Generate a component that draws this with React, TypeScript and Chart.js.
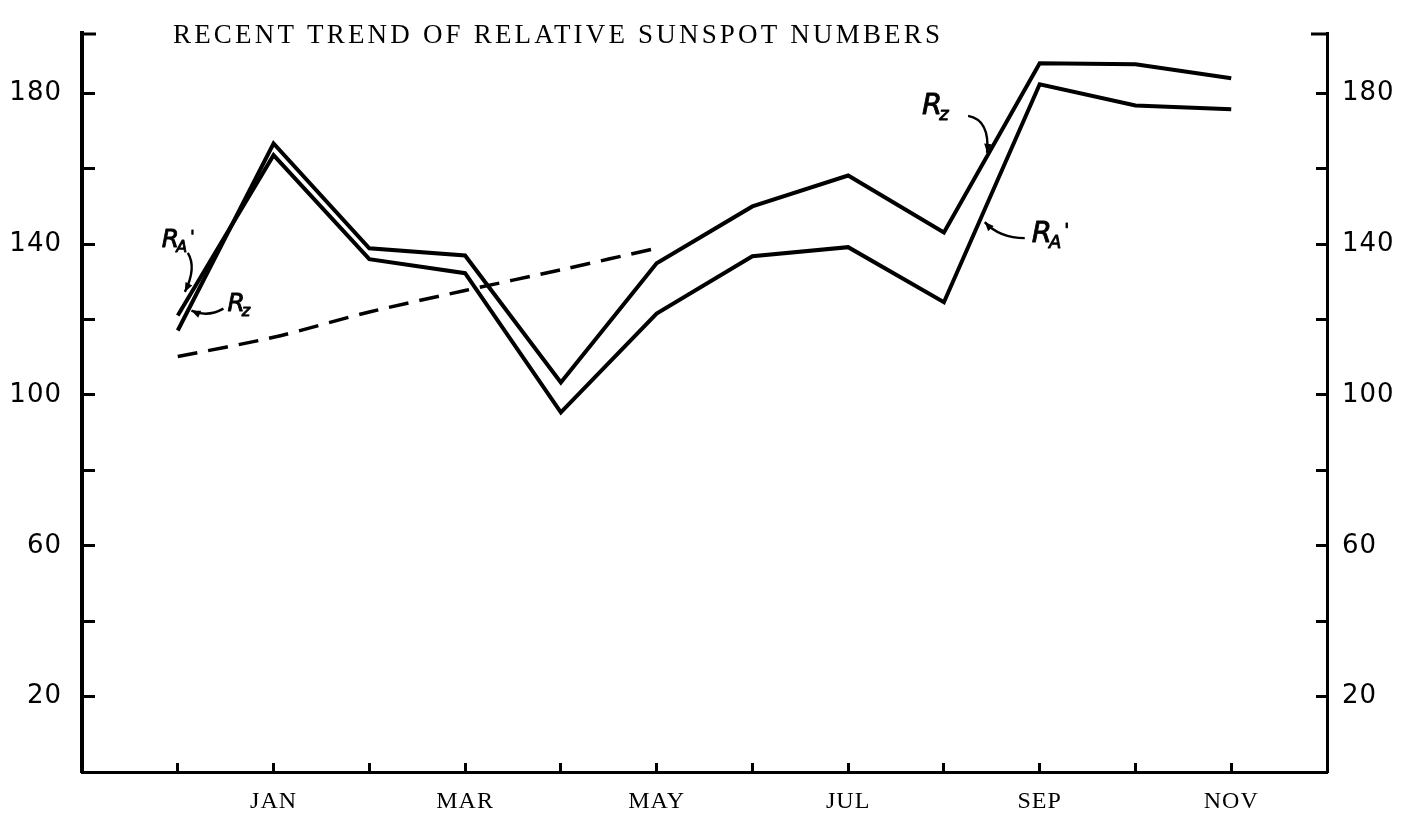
import React, { useEffect, useRef } from 'react';
import { Chart, registerables } from 'chart.js';

Chart.register(...registerables);

// ---- data ----
const MONTHS = ['DEC', 'JAN', 'FEB', 'MAR', 'APR', 'MAY', 'JUN', 'JUL', 'AUG', 'SEP', 'OCT', 'NOV'];
const LABELED_MONTHS = ['JAN', 'MAR', 'MAY', 'JUL', 'SEP', 'NOV'];
const R_Z = [117.1, 166.7, 138.9, 137.0, 103.3, 134.9, 150.0, 158.2, 143.1, 188.0, 187.7, 184.0];
const R_A = [121.1, 163.6, 136.0, 132.3, 95.4, 121.6, 136.8, 139.2, 124.6, 182.4, 176.8, 175.8];
const SMOOTHED = [110.2, 115.3, 122.0, 127.7, 133.2, 138.9];
const Y_TICKS = [20, 40, 60, 80, 100, 120, 140, 160, 180];
const Y_LABELS = [20, 60, 100, 140, 180];
const Y_MIN = 0;
const Y_MAX = 196;
const X_MIN = -1;
const X_MAX = 12;
const TITLE = 'RECENT TREND OF RELATIVE SUNSPOT NUMBERS';

type Note = {
  series: number[];
  t: number;
  sub: string;
  prime: boolean;
  size: number;
  label: [number, number];
  start: [number, number];
  ctrl: [number, number];
  end: [number, number];
};

const NOTES: Note[] = [
  { series: R_A, t: 0.147, sub: 'A', prime: true, size: 25, label: [-30, -45], start: [-4, -39], ctrl: [5, -24], end: [-7, 0] },
  { series: R_Z, t: 0.122, sub: 'z', prime: false, size: 25, label: [38, 3], start: [34, 1], ctrl: [18, 10], end: [2, 3] },
  { series: R_Z, t: 8.482, sub: 'z', prime: false, size: 29, label: [-68, -37], start: [-22, -35], ctrl: [0, -31], end: [-3, 2] },
  { series: R_A, t: 8.395, sub: 'A', prime: true, size: 29, label: [50, 26], start: [43, 22], ctrl: [18, 22], end: [3, 6] },
];

function valueAt(series: number[], t: number): number {
  const i = Math.floor(t);
  const j = Math.min(series.length - 1, i + 1);
  return series[i] + (series[j] - series[i]) * (t - i);
}

const letterSpacingPlugin = {
  id: 'letterSpacing',
  beforeDraw(chart: any) {
    (chart.ctx as any).letterSpacing = '1px';
  },
  afterDatasetsDraw(chart: any) {
    // x axis (z: 1) labels are drawn after the datasets
    (chart.ctx as any).letterSpacing = '5px';
  },
};

const decorPlugin = {
  id: 'decor',
  afterDraw(chart: any) {
    const ctx: CanvasRenderingContext2D = chart.ctx;
    const { left, right, top } = chart.chartArea;
    const xs = chart.scales.x;
    const ys = chart.scales.y;
    ctx.save();
    (ctx as any).letterSpacing = '0px';
    // top hooks of the axes
    ctx.strokeStyle = '#000';
    ctx.fillStyle = '#000';
    ctx.lineCap = 'butt';
    ctx.lineWidth = 3;
    ctx.beginPath();
    ctx.moveTo(left - 2, top + 1);
    ctx.lineTo(left + 14, top + 1);
    ctx.moveTo(right + 1, top + 1);
    ctx.lineTo(right - 16, top + 1);
    ctx.stroke();

    // title, spread like typewriter text
    ctx.font = '27px "Liberation Serif"';
    ctx.textAlign = 'left';
    ctx.textBaseline = 'alphabetic';
    const w0 = ctx.measureText(TITLE).width;
    const spacing = (767 - w0) / (TITLE.length - 1);
    (ctx as any).letterSpacing = `${spacing}px`;
    ctx.fillText(TITLE, 173, 43);
    (ctx as any).letterSpacing = '0px';

    // curve labels with arrows
    NOTES.forEach((n) => {
      const ax = xs.getPixelForValue(n.t);
      const ay = ys.getPixelForValue(valueAt(n.series, n.t));
      const sx = ax + n.start[0], sy = ay + n.start[1];
      const cx = ax + n.ctrl[0], cy = ay + n.ctrl[1];
      const ex = ax + n.end[0], ey = ay + n.end[1];
      ctx.lineWidth = 2.4;
      ctx.beginPath();
      ctx.moveTo(sx, sy);
      ctx.quadraticCurveTo(cx, cy, ex, ey);
      ctx.stroke();
      const ang = Math.atan2(ey - cy, ex - cx);
      const len = 9, hw = 3.8;
      ctx.beginPath();
      ctx.moveTo(ex, ey);
      ctx.lineTo(ex - len * Math.cos(ang) + hw * Math.sin(ang), ey - len * Math.sin(ang) - hw * Math.cos(ang));
      ctx.lineTo(ex - len * Math.cos(ang) - hw * Math.sin(ang), ey - len * Math.sin(ang) + hw * Math.cos(ang));
      ctx.closePath();
      ctx.fill();

      const lx = ax + n.label[0], ly = ay + n.label[1];
      ctx.lineWidth = 0.9;
      ctx.lineJoin = 'round';
      ctx.font = `italic ${n.size}px "DejaVu Sans"`;
      ctx.fillText('R', lx, ly);
      ctx.strokeText('R', lx, ly);
      const w = ctx.measureText('R').width;
      const subSize = Math.round(n.size * 0.62);
      ctx.font = `italic ${subSize}px "DejaVu Sans"`;
      ctx.fillText(n.sub, lx + w - 3, ly + n.size * 0.2);
      ctx.strokeText(n.sub, lx + w - 3, ly + n.size * 0.2);
      const sw = ctx.measureText(n.sub).width;
      if (n.prime) {
        ctx.fillText("'", lx + w + sw, ly - n.size * 0.2);
        ctx.strokeText("'", lx + w + sw, ly - n.size * 0.2);
      }
    });
    ctx.restore();
  },
};

export default function App() {
  const canvasRef = useRef<HTMLCanvasElement | null>(null);

  useEffect(() => {
    if (!canvasRef.current) return;
    const chart = new Chart(canvasRef.current, {
      type: 'line',
      data: {
        datasets: [
          {
            label: 'Rz',
            data: R_Z.map((y, i) => ({ x: i, y })),
            borderColor: '#000',
            borderWidth: 4,
            pointRadius: 0,
            tension: 0,
          },
          {
            label: "RA'",
            data: R_A.map((y, i) => ({ x: i, y })),
            borderColor: '#000',
            borderWidth: 4,
            pointRadius: 0,
            tension: 0,
          },
          {
            label: 'smoothed',
            data: SMOOTHED.map((y, i) => ({ x: i, y })),
            borderColor: '#000',
            borderWidth: 3.5,
            borderDash: [20, 11],
            pointRadius: 0,
            tension: 0.3,
          },
        ],
      },
      options: {
        responsive: false,
        animation: false,
        devicePixelRatio: 1,
        layout: { padding: { top: 33, left: 0, right: 0, bottom: 0 } },
        plugins: {
          legend: { display: false },
          tooltip: { enabled: false },
          title: { display: false },
        },
        scales: {
          x: {
            type: 'linear',
            min: X_MIN,
            max: X_MAX,
            z: 1,
            afterBuildTicks: (axis: any) => {
              axis.ticks = MONTHS.map((_, i) => ({ value: i }));
            },
            afterFit: (axis: any) => {
              axis.height = 46;
              axis.paddingLeft = 0;
              axis.paddingRight = 0;
            },
            grid: {
              drawOnChartArea: false,
              drawTicks: true,
              tickLength: -9,
              tickWidth: 3,
              color: '#000',
            },
            border: { display: true, color: '#000', width: 3 },
            ticks: {
              autoSkip: false,
              maxRotation: 0,
              padding: 24,
              color: '#000',
              font: { family: '"Liberation Serif"', size: 24 },
              callback: (v: any) => {
                const m = MONTHS[Number(v)];
                return m && LABELED_MONTHS.includes(m) ? m : '';
              },
            },
          },
          y: {
            type: 'linear',
            position: 'left',
            min: Y_MIN,
            max: Y_MAX,
            afterBuildTicks: (axis: any) => {
              axis.ticks = Y_TICKS.map((v) => ({ value: v }));
            },
            afterFit: (axis: any) => {
              axis.width = 82;
              axis.paddingTop = 0;
              axis.paddingBottom = 0;
            },
            grid: {
              drawOnChartArea: false,
              drawTicks: true,
              tickLength: -13,
              tickWidth: 3,
              color: '#000',
            },
            border: { display: true, color: '#000', width: 4 },
            ticks: {
              padding: 33,
              color: '#000',
              font: { family: '"DejaVu Sans"', size: 26 },
              callback: (v: any) => (Y_LABELS.includes(Number(v)) ? String(v) : ''),
            },
          },
          y2: {
            type: 'linear',
            position: 'right',
            min: Y_MIN,
            max: Y_MAX,
            afterBuildTicks: (axis: any) => {
              axis.ticks = Y_TICKS.map((v) => ({ value: v }));
            },
            afterFit: (axis: any) => {
              axis.width = 89;
              axis.paddingTop = 0;
              axis.paddingBottom = 0;
            },
            grid: {
              drawOnChartArea: false,
              drawTicks: true,
              tickLength: -11,
              tickWidth: 3,
              color: '#000',
            },
            border: { display: true, color: '#000', width: 3 },
            ticks: {
              padding: 26,
              color: '#000',
              font: { family: '"DejaVu Sans"', size: 26 },
              callback: (v: any) => (Y_LABELS.includes(Number(v)) ? String(v) : ''),
            },
          },
        },
      } as any,
      plugins: [letterSpacingPlugin, decorPlugin],
    });
    return () => chart.destroy();
  }, []);

  return (
    <div style={{ position: 'absolute', left: 0, top: 0, width: 1416, height: 818, background: '#fff' }}>
      <canvas ref={canvasRef} width={1416} height={818} style={{ display: 'block' }} />
    </div>
  );
}
